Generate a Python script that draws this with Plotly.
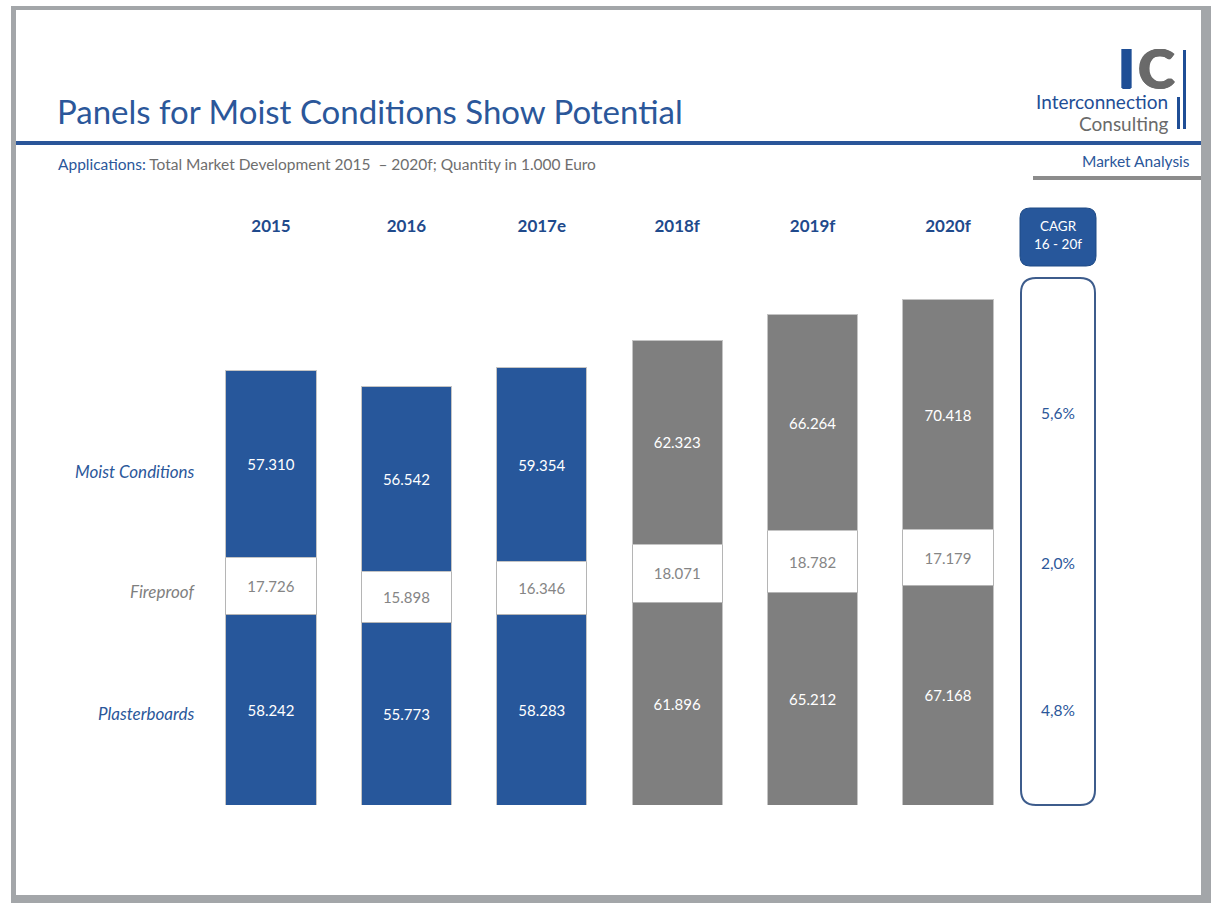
import plotly.graph_objects as go

# ---------------- data ----------------
years = ["2015", "2016", "2017e", "2018f", "2019f", "2020f"]
plasterboards = [58242, 55773, 58283, 61896, 65212, 67168]
fireproof = [17726, 15898, 16346, 18071, 18782, 17179]
moist = [57310, 56542, 59354, 62323, 66264, 70418]
segments = ["Plasterboards", "Fireproof", "Moist Conditions"]
cagr_labels = ["4,8%", "2,0%", "5,6%"]   # plaster, fire, moist
is_forecast = [False, False, False, True, True, True]

# ---------------- style ----------------
W, H = 1211, 903
BLUE = "#27579b"
TBLUE = "#2b579a"
LOGO_BLUE = "#1f4e96"
LOGO_GREY = "#6a6a6a"
GREY = "#7f7f7f"
TGREY = "#6e6e6e"
FONT = "Lato"

def px(x):
    return x / W

def py(y):
    return 1 - y / H

bar_colors = [GREY if f else BLUE for f in is_forecast]

fig = go.Figure()

common = dict(
    x=years,
    texttemplate="%{y:,}",
    textposition="inside",
    insidetextanchor="middle",
    textangle=0,
    constraintext="none",
    hoverinfo="skip",
    showlegend=False,
)
fig.add_trace(go.Bar(y=plasterboards, name=segments[0],
                     marker=dict(color=bar_colors, line=dict(color="#c4c4c4", width=1)),
                     textfont=dict(color="white", size=15, family=FONT), **common))
fig.add_trace(go.Bar(y=fireproof, name=segments[1],
                     marker=dict(color="white", line=dict(color="#b5b5b5", width=1)),
                     textfont=dict(color="#858585", size=15, family=FONT), **common))
fig.add_trace(go.Bar(y=moist, name=segments[2],
                     marker=dict(color=bar_colors, line=dict(color="#c4c4c4", width=1)),
                     textfont=dict(color="white", size=15, family=FONT), **common))

# plot area geometry (pixels)
X_LEFT, X_RIGHT = 203.3, 1015.7
Y_BOTTOM, Y_TOP = 805, 240
units_per_px = 133278 / 435.0
y_max = (Y_BOTTOM - Y_TOP) * units_per_px

fig.update_layout(
    width=W, height=H,
    margin=dict(l=0, r=0, t=0, b=0),
    paper_bgcolor="white", plot_bgcolor="rgba(0,0,0,0)",
    barmode="stack", bargap=0.335,
    separators=",.",
    font=dict(family=FONT),
    xaxis=dict(domain=[px(X_LEFT), px(X_RIGHT)], side="top", showgrid=False,
               showline=False, zeroline=False, ticks="",
               tickfont=dict(family=FONT, size=17, color="#1f4a8c", weight="bold"),
               ticklabelstandoff=4, fixedrange=True),
    yaxis=dict(domain=[py(Y_BOTTOM), py(Y_TOP)], range=[0, y_max], visible=False,
               fixedrange=True),
)

shapes = []
# slide frame / shadow
shapes.append(dict(type="rect", xref="paper", yref="paper", x0=px(11), x1=px(1211),
                   y0=py(903), y1=py(6), fillcolor="#a3a6a9", line=dict(width=0), layer="below"))
shapes.append(dict(type="rect", xref="paper", yref="paper", x0=px(16), x1=px(1201),
                   y0=py(895), y1=py(10), fillcolor="white", line=dict(width=0), layer="below"))
# title rule
shapes.append(dict(type="rect", xref="paper", yref="paper", x0=px(16), x1=px(1201),
                   y0=py(145), y1=py(141), fillcolor="#2a5599", line=dict(width=0), layer="below"))
# market analysis rule
shapes.append(dict(type="rect", xref="paper", yref="paper", x0=px(1033), x1=px(1201),
                   y0=py(180), y1=py(176), fillcolor="#8c8c8c", line=dict(width=0), layer="below"))
# logo bars
shapes.append(dict(type="rect", xref="paper", yref="paper", x0=px(1177), x1=px(1180),
                   y0=py(129), y1=py(97), fillcolor=LOGO_BLUE, line=dict(width=0)))
shapes.append(dict(type="rect", xref="paper", yref="paper", x0=px(1183), x1=px(1186),
                   y0=py(129), y1=py(50), fillcolor=LOGO_BLUE, line=dict(width=0)))


def rounded(x0, y0, x1, y1, r):
    # pixel coords, y down
    pts = [
        f"M {px(x0 + r)},{py(y0)}",
        f"L {px(x1 - r)},{py(y0)}",
        f"Q {px(x1)},{py(y0)} {px(x1)},{py(y0 + r)}",
        f"L {px(x1)},{py(y1 - r)}",
        f"Q {px(x1)},{py(y1)} {px(x1 - r)},{py(y1)}",
        f"L {px(x0 + r)},{py(y1)}",
        f"Q {px(x0)},{py(y1)} {px(x0)},{py(y1 - r)}",
        f"L {px(x0)},{py(y0 + r)}",
        f"Q {px(x0)},{py(y0)} {px(x0 + r)},{py(y0)}",
        "Z",
    ]
    return " ".join(pts)

shapes.append(dict(type="path", xref="paper", yref="paper",
                   path=rounded(1020, 208, 1096, 266, 10),
                   fillcolor=BLUE, line=dict(color="#1e4a85", width=1)))
shapes.append(dict(type="path", xref="paper", yref="paper",
                   path=rounded(1021, 278, 1095, 805, 15),
                   fillcolor="white", line=dict(color="#3d5c8c", width=2)))
fig.update_layout(shapes=shapes)

ann = []
def add_text(text, x, y, size, color, xanchor="left", italic=False, weight=None,
             yanchor="middle", shadow=None):
    f = dict(family=FONT, size=size, color=color)
    if italic:
        f["style"] = "italic"
    if weight:
        f["weight"] = weight
    if shadow:
        f["shadow"] = shadow
    ann.append(dict(text=text, x=px(x), y=py(y), xref="paper", yref="paper",
                    xanchor=xanchor, yanchor=yanchor, showarrow=False, font=f,
                    borderpad=0))

def heavy(c):
    return f"1px 0 0 {c}, 2px 0 0 {c}, 3px 0 0 {c}, 1px 1px 0 {c}, 2px 1px 0 {c}"

add_text("Panels for Moist Conditions Show Potential", 56, 111, 33, TBLUE)
add_text(f"<span style='color:{TBLUE}'>Applications:</span> Total Market Development 2015  – 2020f; Quantity in 1.000 Euro",
         57, 164, 15.5, TGREY)
add_text("Market Analysis", 1191, 161, 15.5, TBLUE, xanchor="right")
# logo
add_text("I", 1134, 68, 54, LOGO_BLUE, xanchor="right", weight="bold", shadow=heavy(LOGO_BLUE))
add_text("C", 1136, 68, 54, LOGO_GREY, xanchor="left", weight="bold", shadow=heavy(LOGO_GREY))
add_text("Interconnection", 1169, 102, 19, LOGO_BLUE, xanchor="right")
add_text("Consulting", 1169, 123, 19, LOGO_GREY, xanchor="right")
# row labels
add_text("Moist Conditions", 196, 471, 17, TBLUE, xanchor="right", italic=True)
add_text("Fireproof", 196, 591, 17, GREY, xanchor="right", italic=True)
add_text("Plasterboards", 196, 713, 17, TBLUE, xanchor="right", italic=True)
# CAGR
add_text("CAGR<br>16 - 20f", 1058, 235, 13.5, "white", xanchor="center")
for lab, yy in zip(cagr_labels, [710, 563, 413]):
    add_text(lab, 1058, yy, 15.5, TBLUE, xanchor="center")
fig.update_layout(annotations=ann)

fig.write_html("out.html", config={"displayModeBar": False},
               post_script="document.body.style.margin='0px';")
